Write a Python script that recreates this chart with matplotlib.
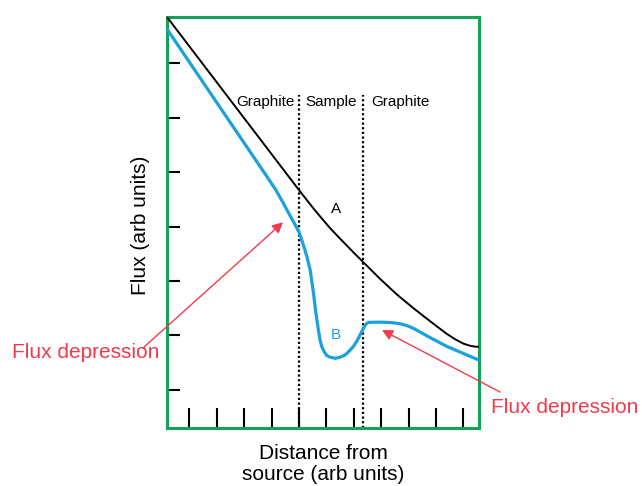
import matplotlib
matplotlib.use("Agg")
import matplotlib.pyplot as plt

# ── data (x in tick units, y in tick units) ─────────────────
a_x = [-0.83, 3.70, 4.02, 4.30, 4.55, 4.85, 5.14, 5.44, 5.74, 6.03, 6.33, 6.96,
       7.58, 8.18, 8.79, 9.39, 9.70, 10.00, 10.25, 10.42, 10.58]
a_y = [6.86, 3.87, 3.66, 3.48, 3.32, 3.14, 2.97, 2.81, 2.655, 2.505, 2.355, 2.04,
       1.75, 1.50, 1.26, 1.03, 0.93, 0.85, 0.81, 0.795, 0.79]

b_x = [-0.83, 2.83, 3.16, 3.43, 3.60, 3.80, 4.02, 4.11, 4.22, 4.31, 4.41, 4.53,
       4.62, 4.71, 4.77, 4.83, 4.92, 5.02, 5.14, 5.32, 5.50, 5.68, 5.83, 5.99,
       6.12, 6.23, 6.35, 6.43, 6.53, 6.96, 7.40, 7.69, 7.95, 8.18, 8.79, 9.39,
       10.58]
b_y = [6.64, 3.92, 3.67, 3.43, 3.27, 3.09, 2.88, 2.74, 2.57, 2.41, 2.20, 1.78,
       1.41, 1.10, 0.92, 0.80, 0.70, 0.63, 0.60, 0.58, 0.60, 0.64, 0.71, 0.80,
       0.90, 1.01, 1.13, 1.20, 1.24, 1.245, 1.235, 1.215, 1.18, 1.13, 0.96, 0.80,
       0.545]

boundaries = [4.0, 6.33]
regions = ["Graphite", "Sample", "Graphite"]
region_x = [2.78, 5.19, 7.71]

x_ticks = list(range(11))
y_ticks = list(range(7))

GREEN = "#16a05a"
BLUE = "#1ba1dd"
RED = "#ef3b4a"
FONT = "Liberation Sans"

plt.rcParams["font.family"] = [FONT, "DejaVu Sans"]

fig = plt.figure(figsize=(6.42, 4.86), dpi=100)
ax = fig.add_axes([167 / 642, 1 - 428 / 486, 312 / 642, 411 / 486])

ax.plot(a_x, a_y, color="black", lw=1.4, solid_joinstyle="round", zorder=3)
ax.plot(b_x, b_y, color=BLUE, lw=2.3, solid_joinstyle="round", zorder=3)

for bx in boundaries:
    ax.plot([bx, bx], [-0.7, 5.42], color="black", lw=1.6,
            linestyle=(0, (1, 1.1)), zorder=2)

for name, rx in zip(regions, region_x):
    ax.text(rx, 5.29, name, ha="center", va="center", fontsize=11)

ax.text(5.36, 3.32, "A", ha="center", va="center", fontsize=11)
ax.text(5.36, 1.01, "B", ha="center", va="center", fontsize=11, color=BLUE)

# arrows to the flux depressions
ax.annotate("", xy=(3.42, 3.08), xytext=(-1.69, 0.77),
            arrowprops=dict(arrowstyle="-|>", color=RED, lw=1.0,
                            mutation_scale=16, shrinkA=0, shrinkB=0),
            annotation_clip=False)
ax.annotate("", xy=(7.03, 1.10), xytext=(11.34, -0.04),
            arrowprops=dict(arrowstyle="-|>", color=RED, lw=1.0,
                            mutation_scale=16, shrinkA=0, shrinkB=0),
            annotation_clip=False)

ax.set_xlim(-0.814, 10.57)
ax.set_ylim(-0.70, 6.85)
ax.set_xticks(x_ticks)
ax.set_yticks(y_ticks)
ax.set_xticklabels([])
ax.set_yticklabels([])
ax.tick_params(axis="x", direction="in", length=14.5, width=1.5, color="black")
ax.tick_params(axis="y", direction="in", length=9.5, width=1.5, color="black")

for s in ax.spines.values():
    s.set_color(GREEN)
    s.set_linewidth(2.2)

fig.text(141 / 642, 1 - 225 / 486, "Flux (arb units)", rotation=90,
         ha="center", va="center", fontsize=15)
fig.text(323 / 642, 1 - 453 / 486, "Distance from", ha="center", va="center", fontsize=15)
fig.text(323 / 642, 1 - 474 / 486, "source (arb units)", ha="center", va="center", fontsize=15)

fig.text(85.5 / 642, 1 - 353 / 486, "Flux depression", ha="center", va="center",
         fontsize=15, color=RED)
fig.text(565 / 642, 1 - 407 / 486, "Flux depression", ha="center", va="center",
         fontsize=15, color=RED)

fig.savefig("out.png", dpi=100)
